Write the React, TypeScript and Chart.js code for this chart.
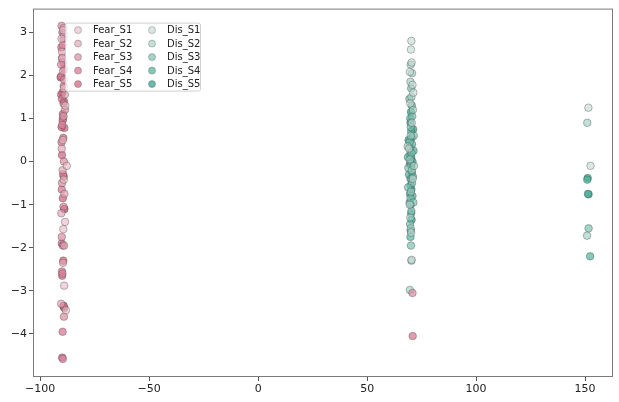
import Chart from "chart.js/auto";
import { useEffect, useRef } from "react";

// scatter values, [x, y]
const fearS1: [number, number][] = [
  [-89.5, 3.05], [-90.2, 2.85], [-89.8, 2.4], [-89.1, 1.7], [-88.5, 1.3], [-89.6, 0.5],
  [-87.8, -0.1], [-89.2, -0.42], [-88.6, -1.4], [-89.4, -1.57], [-89.0, -2.88], [-88.2, -3.45],
];
const fearS2: [number, number][] = [
  [-89.2, 3.1], [-89.0, 2.95], [-90.0, 2.55], [-89.5, 2.1], [-88.7, 1.55], [-89.3, 1.05],
  [-90.1, 0.3], [-89.7, -0.2], [-88.9, -0.75], [-90.3, -1.2], [-89.0, -1.95], [-89.5, -2.35],
  [-90.4, -3.3],
];
const fearS3: [number, number][] = [
  [-90.2, 3.15], [-89.6, 2.7], [-90.4, 2.25], [-89.0, 1.9], [-88.6, 1.2], [-89.9, 0.85],
  [-89.1, 0.0], [-90.0, -0.5], [-89.3, -1.05], [-90.1, -1.75], [-89.8, -2.6], [-89.1, -3.6],
  [-89.6, -4.58], [70.8, -3.05],
];
const fearS4: [number, number][] = [
  [-89.8, 3.0], [-90.3, 2.65], [-89.4, 2.3], [-90.5, 1.98], [-89.2, 1.75], [-90.0, 1.45],
  [-89.3, 1.35], [-89.7, 0.95], [-90.2, 0.45], [-89.5, -0.3], [-90.1, -0.65], [-88.9, -1.1],
  [-89.6, -1.95], [-90.0, -2.55], [-89.3, -3.35], [-89.7, -3.95], [70.9, -4.05],
];
const fearS5: [number, number][] = [
  [-89.3, 2.85], [-90.0, 2.4], [-89.0, 2.15], [-90.6, 1.95], [-89.8, 1.6], [-90.4, 1.55],
  [-89.1, 1.4], [-89.6, 1.1], [-88.9, 0.78], [-89.4, 0.55], [-90.0, 0.15], [-89.2, -0.35],
  [-89.6, -0.85], [-89.0, -1.1], [-90.1, -1.9], [-89.4, -2.3], [-89.9, -2.65], [-89.0, -3.4],
  [-89.3, -3.35], [-89.9, -4.55], [-89.5, 1.0], [-90.2, 0.8],
];
const disS1: [number, number][] = [
  [70.3, 2.8], [70.1, 2.6], [70.4, 2.3], [69.6, 2.08], [70.8, 1.78], [71.2, 1.6],
  [69.8, 1.35], [70.5, 0.9], [69.2, 0.3], [70.9, -0.4], [69.5, -1.0], [70.2, -1.65],
  [70.4, -2.28], [151.5, 1.25], [152.5, -0.1],
];
const disS2: [number, number][] = [
  [70.0, 2.25], [70.6, 2.05], [69.9, 1.85], [70.3, 1.5], [71.0, 1.2], [70.0, 0.6],
  [69.7, 0.05], [70.5, -0.2], [70.1, -0.7], [69.8, -1.3], [70.0, -1.55], [70.3, -2.3],
  [69.6, -2.98], [151.0, 0.9], [150.9, -1.72], [68.6, 0.35], [71.5, -0.1],
];
const disS3: [number, number][] = [
  [70.2, 1.7], [69.4, 1.45], [70.7, 1.05], [70.0, 0.8], [69.5, 0.45], [70.4, 0.2],
  [70.1, -0.05], [68.9, -0.15], [70.6, -0.5], [69.9, -0.85], [70.3, -1.15], [69.7, -1.45],
  [70.1, -1.95], [151.6, -1.55], [71.4, 0.6], [68.8, -0.6], [71.2, -0.95],
];
const disS4: [number, number][] = [
  [70.5, 1.3], [69.8, 1.0], [70.2, 0.7], [70.6, 0.4], [69.6, 0.15], [70.3, -0.1],
  [69.2, -0.3], [70.0, -0.55], [70.8, -0.8], [69.5, -0.95], [70.2, -1.2], [69.9, -1.75],
  [151.0, -0.42], [151.3, -0.75], [152.3, -2.2], [71.3, 0.25], [68.7, 0.1], [71.0, -0.35],
];
const disS5: [number, number][] = [
  [70.1, 1.15], [69.9, 0.9], [70.4, 0.55], [69.8, 0.3], [70.2, 0.1], [69.6, -0.05],
  [70.5, -0.25], [69.9, -0.4], [70.3, -0.65], [69.7, -0.75], [70.0, -1.0], [70.4, -1.35],
  [70.0, -1.6], [151.2, -0.38], [151.6, -0.76], [71.1, 0.75], [69.0, 0.5], [70.8, 0.0],
];

const seriesLabels = [
  "Fear_S1", "Fear_S2", "Fear_S3", "Fear_S4", "Fear_S5",
  "Dis_S1", "Dis_S2", "Dis_S3", "Dis_S4", "Dis_S5",
];
const seriesData = [fearS1, fearS2, fearS3, fearS4, fearS5, disS1, disS2, disS3, disS4, disS5];
const seriesColors = [
  "rgba(230,185,197,0.62)", "rgba(224,160,178,0.65)", "rgba(218,134,158,0.68)",
  "rgba(214,114,142,0.7)", "rgba(210,96,126,0.7)",
  "rgba(196,218,211,0.62)", "rgba(160,208,194,0.65)", "rgba(118,192,174,0.68)",
  "rgba(78,176,156,0.7)", "rgba(46,160,140,0.72)",
];

const xTickValues = [-100, -50, 0, 50, 100, 150];
const yTickValues = [-4, -3, -2, -1, 0, 1, 2, 3];

const FONT = "'DejaVu Sans', sans-serif";
const minus = (v: string | number) => String(v).replace("-", "\u2212");

const frameAndLegend = {
  id: "frameAndLegend",
  afterDraw(chart: any) {
    const { ctx, chartArea: a } = chart;
    ctx.save();
    ctx.strokeStyle = "#7a7a7a";
    ctx.lineWidth = 1;
    ctx.strokeRect(a.left + 0.5, a.top + 0.5, a.right - a.left - 1, a.bottom - a.top - 1);

    // two-column legend in the upper left
    const lx = a.left + 32;
    const ly = a.top + 14;
    const w = 135;
    const h = 68;
    ctx.fillStyle = "rgba(255,255,255,0.8)";
    ctx.strokeStyle = "#d0d0d0";
    ctx.beginPath();
    ctx.roundRect(lx + 0.5, ly + 0.5, w, h, 2);
    ctx.fill();
    ctx.stroke();
    ctx.font = `10px ${FONT}`;
    ctx.textBaseline = "middle";
    seriesLabels.forEach((label, i) => {
      const col = Math.floor(i / 5);
      const row = i % 5;
      const cx = lx + 13 + col * 74;
      const cy = ly + 7.5 + row * 13.5;
      ctx.beginPath();
      ctx.arc(cx, cy, 3.5, 0, Math.PI * 2);
      ctx.fillStyle = seriesColors[i];
      ctx.fill();
      ctx.strokeStyle = "rgba(70,70,70,0.45)";
      ctx.lineWidth = 0.7;
      ctx.stroke();
      ctx.fillStyle = "#222";
      ctx.fillText(label, cx + 15, cy + 0.5);
    });
    ctx.restore();
  },
};

export default function App() {
  const ref = useRef<HTMLCanvasElement | null>(null);
  useEffect(() => {
    if (!ref.current) return;
    const chart = new Chart(ref.current, {
      type: "scatter",
      data: {
        datasets: seriesData.map((pts, i) => ({
          label: seriesLabels[i],
          data: pts.map(([x, y]) => ({ x, y })),
          backgroundColor: seriesColors[i],
          borderColor: "rgba(60,60,60,0.5)",
          borderWidth: 0.7,
          pointRadius: 3.8,
        })),
      },
      options: {
        animation: false,
        responsive: true,
        maintainAspectRatio: false,
        layout: { padding: { top: 7, right: 6, left: 0, bottom: 0 } },
        plugins: { legend: { display: false }, tooltip: { enabled: false } },
        scales: {
          x: {
            type: "linear",
            min: -103.3,
            max: 162.8,
            afterBuildTicks: (s: any) => {
              s.ticks = xTickValues.map((value) => ({ value }));
            },
            afterFit: (s: any) => {
              s.height = 25;
            },
            ticks: {
              callback: (v: any) => minus(v),
              font: { family: FONT, size: 11 },
              color: "#222",
              padding: 2,
              maxRotation: 0,
              autoSkip: false,
            },
            grid: { drawOnChartArea: false, tickLength: 4, color: "#555" },
            border: { display: false },
          },
          y: {
            min: -5.0,
            max: 3.55,
            afterBuildTicks: (s: any) => {
              s.ticks = yTickValues.map((value) => ({ value }));
            },
            afterFit: (s: any) => {
              s.width = 33;
            },
            ticks: {
              callback: (v: any) => minus(v),
              font: { family: FONT, size: 11 },
              color: "#222",
              padding: 2,
              autoSkip: false,
            },
            grid: { drawOnChartArea: false, tickLength: 4, color: "#555" },
            border: { display: false },
          },
        },
      },
      plugins: [frameAndLegend],
    });
    return () => chart.destroy();
  }, [ref]);

  return (
    <div style={{ position: "absolute", left: 0, top: 0, width: 619, height: 402, background: "#fff" }}>
      <canvas ref={ref}></canvas>
    </div>
  );
}
